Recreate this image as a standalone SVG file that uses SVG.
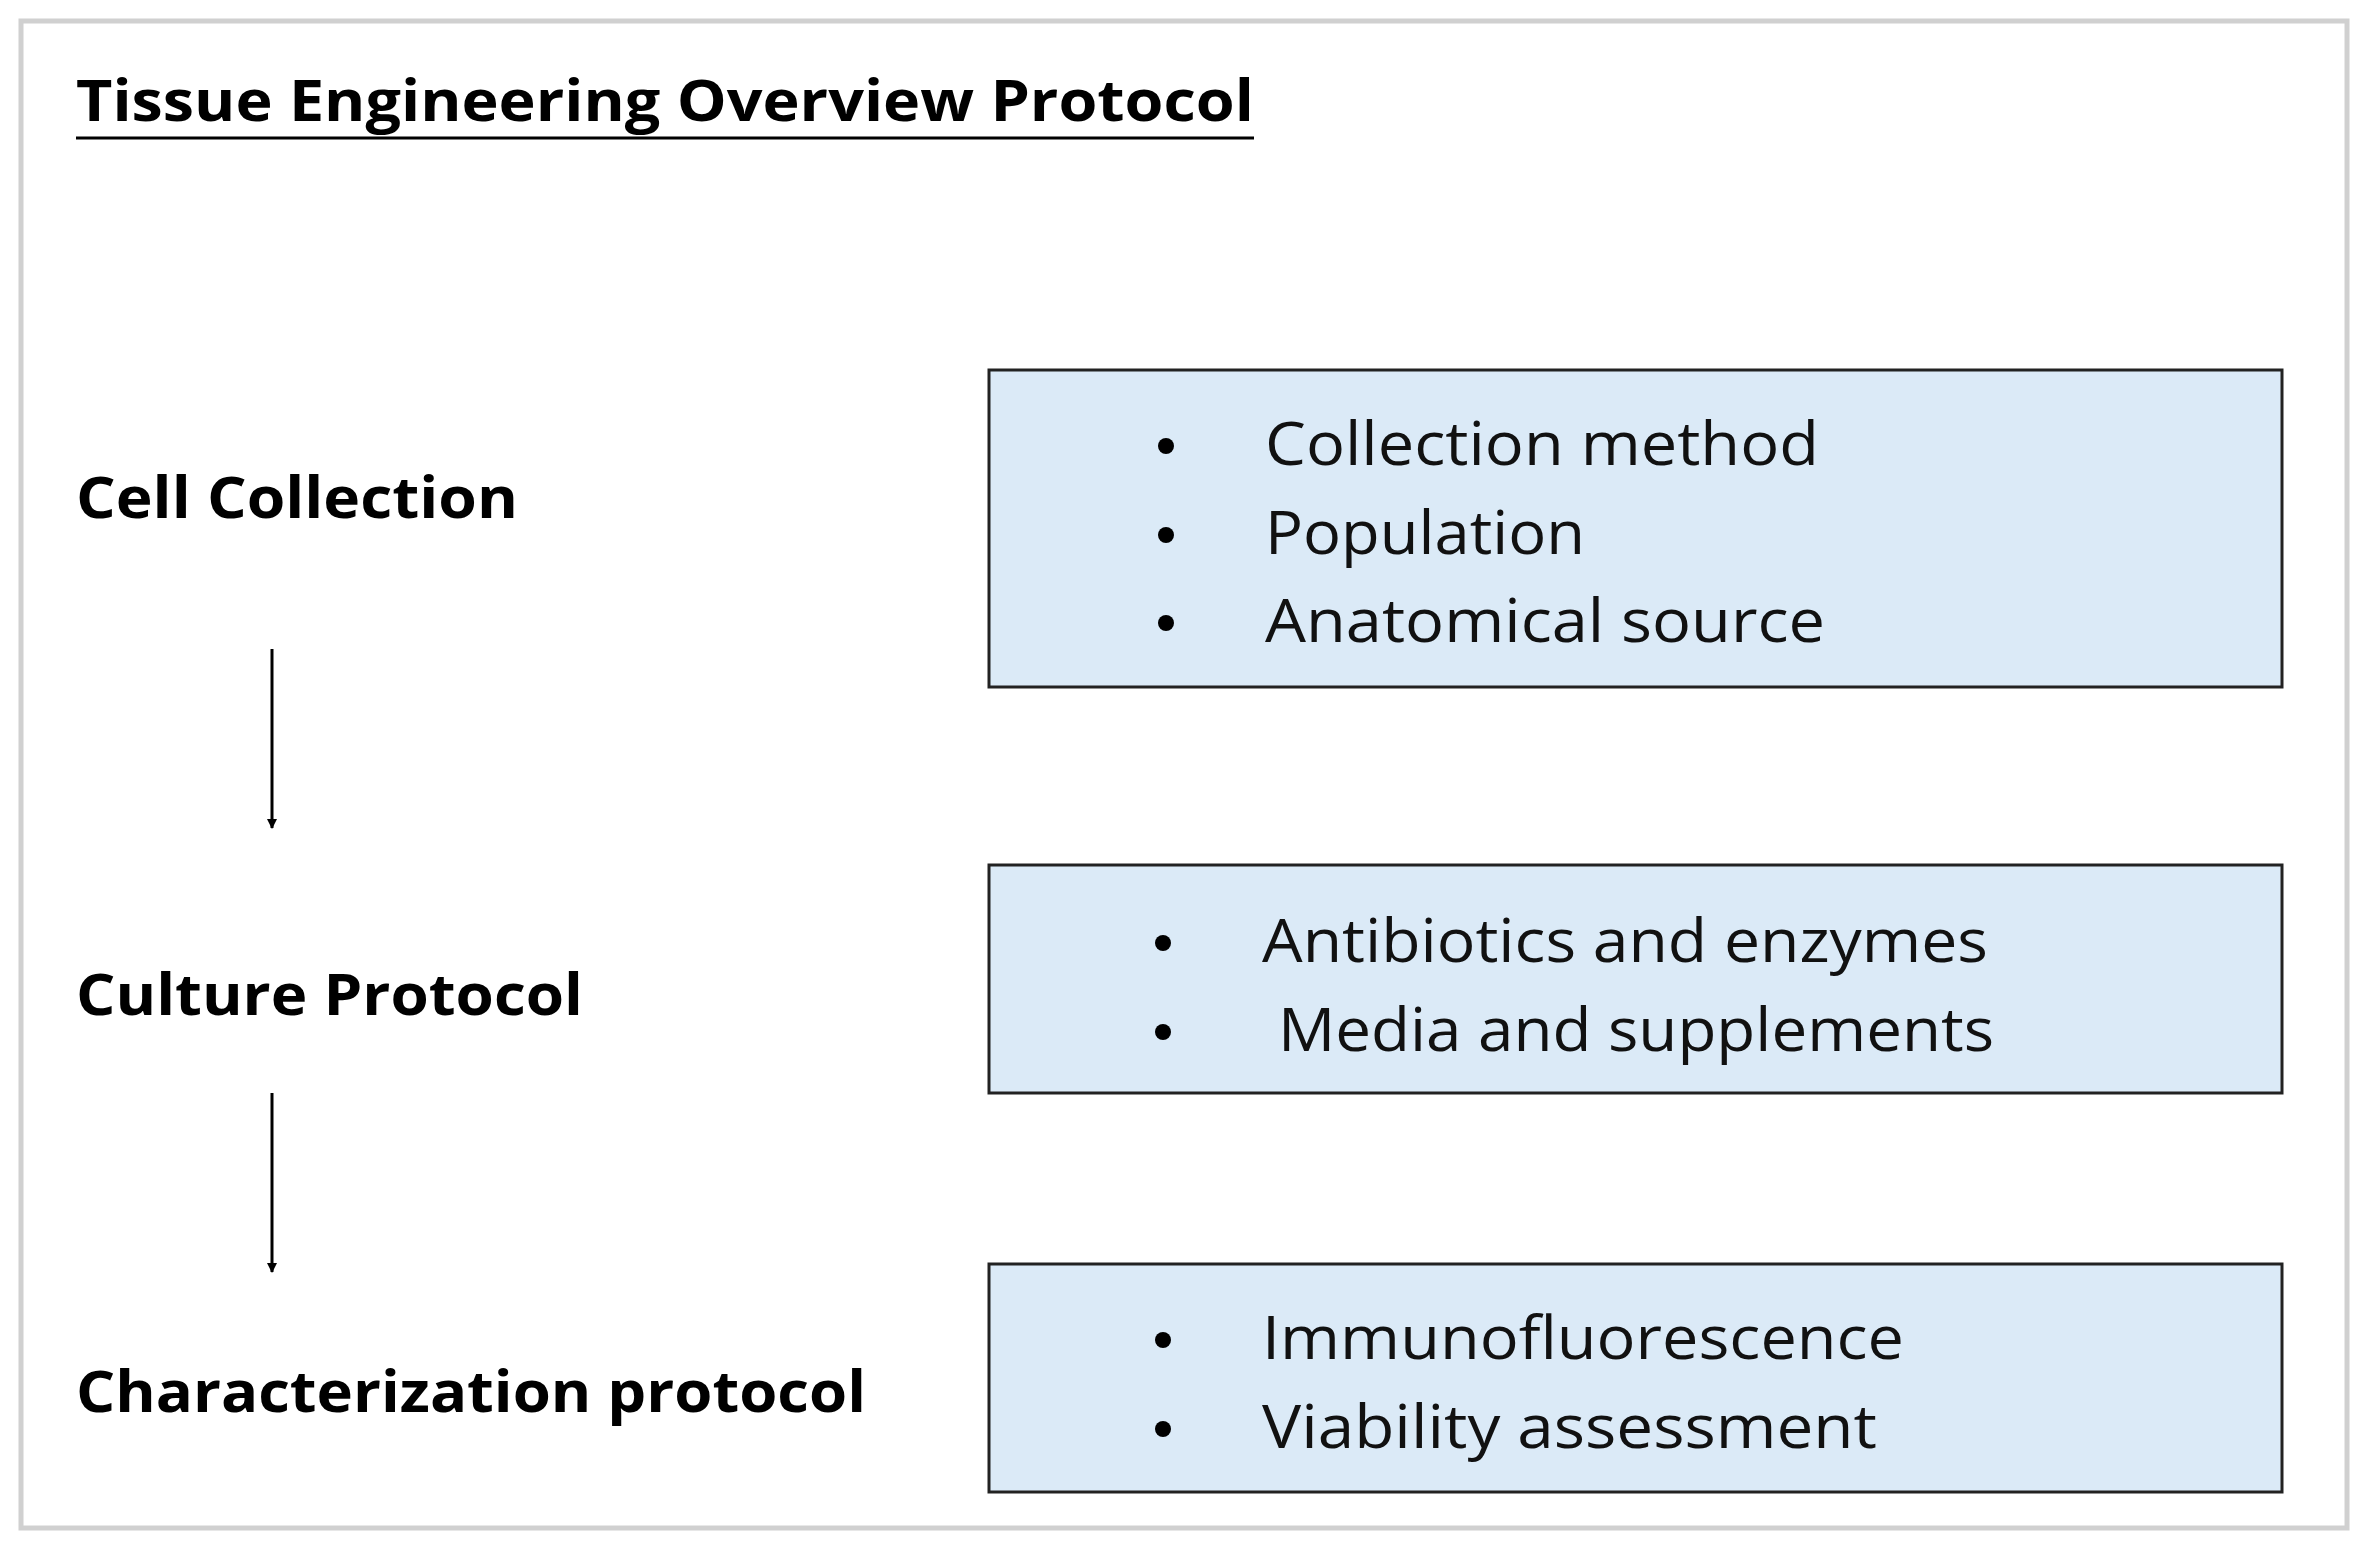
<svg xmlns="http://www.w3.org/2000/svg" width="2368" height="1550" viewBox="0 0 2368 1550">
<defs>
<style>
.h{font-family:"Open Sans","Liberation Sans",sans-serif;font-weight:bold;font-size:58px;fill:#000}
.t{font-family:"Open Sans","Liberation Sans",sans-serif;font-size:60px;fill:#111}
.b{fill:#dbeaf7;stroke:#222;stroke-width:3}
</style>
<marker id="ar" markerWidth="10" markerHeight="10" refX="9" refY="5" orient="auto" markerUnits="userSpaceOnUse" viewBox="0 0 10 10"><path d="M0,0L10,5L0,10z" fill="#000"/></marker>
</defs>
<rect width="2368" height="1550" fill="#fff"/>
<rect x="21" y="21" width="2326" height="1507" fill="none" stroke="#d0d0d0" stroke-width="5"/>
<text class="h" x="76" y="121" textLength="1178" lengthAdjust="spacingAndGlyphs">Tissue Engineering Overview Protocol</text>
<line x1="76" y1="138" x2="1254" y2="138" stroke="#000" stroke-width="3"/>
<g id="cell"><text class="h" x="76" y="518" textLength="442" lengthAdjust="spacingAndGlyphs">Cell Collection</text></g>
<g id="culture"><text class="h" x="76" y="1015" textLength="507" lengthAdjust="spacingAndGlyphs">Culture Protocol</text></g>
<g id="char"><text class="h" x="76" y="1412" textLength="790" lengthAdjust="spacingAndGlyphs">Characterization protocol</text></g>
<g id="connectors" stroke="#000" stroke-width="3">
<line x1="272" y1="649" x2="272" y2="828" marker-end="url(#ar)"/>
<line x1="272" y1="1093" x2="272" y2="1272" marker-end="url(#ar)"/>
</g>
<g id="box1"><rect class="b" x="989" y="370" width="1293" height="317"/>
<circle cx="1166" cy="446" r="8"/><circle cx="1166" cy="535" r="8"/><circle cx="1166" cy="623" r="8"/>
<text class="t" x="1265" y="465" textLength="554" lengthAdjust="spacingAndGlyphs">Collection method</text>
<text class="t" x="1265" y="554" textLength="320" lengthAdjust="spacingAndGlyphs">Population</text>
<text class="t" x="1265" y="642" textLength="560" lengthAdjust="spacingAndGlyphs">Anatomical source</text></g>
<g id="box2"><rect class="b" x="989" y="865" width="1293" height="228"/>
<circle cx="1163" cy="943" r="8"/><circle cx="1163" cy="1032" r="8"/>
<text class="t" x="1262" y="962" textLength="726" lengthAdjust="spacingAndGlyphs">Antibiotics and enzymes</text>
<text class="t" x="1278" y="1051" textLength="716" lengthAdjust="spacingAndGlyphs">Media and supplements</text></g>
<g id="box3"><rect class="b" x="989" y="1264" width="1293" height="228"/>
<circle cx="1163" cy="1340" r="8"/><circle cx="1163" cy="1429" r="8"/>
<text class="t" x="1262" y="1359" textLength="642" lengthAdjust="spacingAndGlyphs">Immunofluorescence</text>
<text class="t" x="1262" y="1448" textLength="615" lengthAdjust="spacingAndGlyphs">Viability assessment</text></g>
</svg>
